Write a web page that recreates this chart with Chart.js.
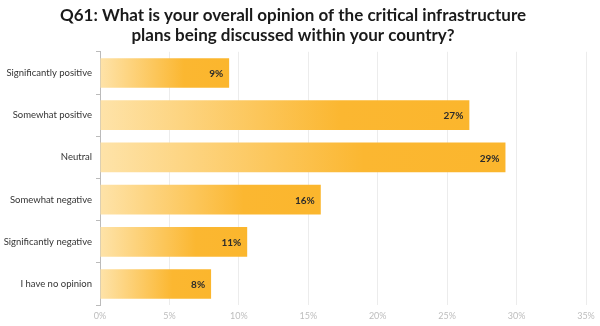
<!DOCTYPE html>
<html>
<head>
<meta charset="utf-8">
<script src="https://cdn.jsdelivr.net/npm/chart.js@4/dist/chart.umd.min.js"></script>
<style>
  html, body { margin: 0; padding: 0; background: #fff; }
  #wrap { width: 600px; height: 326px; }
</style>
</head>
<body>
<div id="wrap"><canvas id="opinion"></canvas></div>
<script>
const categories = ['Significantly positive', 'Somewhat positive', 'Neutral', 'Somewhat negative', 'Significantly negative', 'I have no opinion'];
const shares = [9.3, 26.6, 29.2, 15.9, 10.6, 8.0];
const shareLabels = ['9%', '27%', '29%', '16%', '11%', '8%'];
const xTicks = [0, 5, 10, 15, 20, 25, 30, 35];

// horizontal gradient per bar, pale at the start, full orange towards the end
function barFill(context) {
  const chart = context.chart;
  const xs = chart.scales.x;
  if (!xs || !chart.chartArea) return '#fbb731';
  const x0 = xs.getPixelForValue(0);
  const x1 = xs.getPixelForValue(shares[context.dataIndex]);
  if (!isFinite(x0) || !isFinite(x1) || x1 <= x0) return '#fbb731';
  const g = chart.ctx.createLinearGradient(x0, 0, x1, 0);
  g.addColorStop(0, '#fee3a9');
  g.addColorStop(0.65, '#fbb731');
  g.addColorStop(1, '#fbb62d');
  return g;
}

const valueLabels = {
  id: 'valueLabels',
  afterDatasetsDraw(chart) {
    const ctx = chart.ctx;
    ctx.save();
    ctx.font = 'bold 10px Lato';
    ctx.fillStyle = '#2b2b2b';
    ctx.textAlign = 'right';
    ctx.textBaseline = 'middle';
    chart.getDatasetMeta(0).data.forEach((bar, i) => {
      ctx.fillText(shareLabels[i], bar.x - 6, bar.y + 1);
    });
    ctx.restore();
  }
};

new Chart(document.getElementById('opinion'), {
  type: 'bar',
  data: {
    labels: categories,
    datasets: [{
      data: shares,
      backgroundColor: barFill,
      borderWidth: 0,
      categoryPercentage: 0.7,
      barPercentage: 1
    }]
  },
  options: {
    indexAxis: 'y',
    responsive: true,
    maintainAspectRatio: false,
    animation: false,
    layout: { padding: { left: 0, right: 14, top: 0, bottom: 0 } },
    plugins: {
      legend: { display: false },
      tooltip: { enabled: false },
      title: {
        display: true,
        text: ['Q61: What is your overall opinion of the critical infrastructure', 'plans being discussed within your country?'],
        color: '#1a1a1a',
        font: { family: 'Lato', size: 17, weight: 'bold', lineHeight: 1.2 },
        padding: { top: 5, bottom: 6 }
      }
    },
    scales: {
      x: {
        min: 0,
        max: 35,
        afterBuildTicks(axis) { axis.ticks = xTicks.map(v => ({ value: v })); },
        grid: { color: '#ececec', drawTicks: false },
        border: { display: false },
        ticks: {
          color: '#bdbdbd',
          font: { family: 'Lato', size: 9 },
          padding: 5,
          callback: v => v + '%'
        }
      },
      y: {
        afterFit(axis) { axis.width = 100; },
        grid: { drawOnChartArea: false, offset: true, color: '#bbbbbb', tickLength: 4 },
        border: { display: true, color: '#bbbbbb' },
        ticks: {
          color: '#333333',
          font: { family: 'Lato', size: 9.5 },
          padding: 4
        }
      }
    }
  },
  plugins: [valueLabels]
});
</script>
</body>
</html>
